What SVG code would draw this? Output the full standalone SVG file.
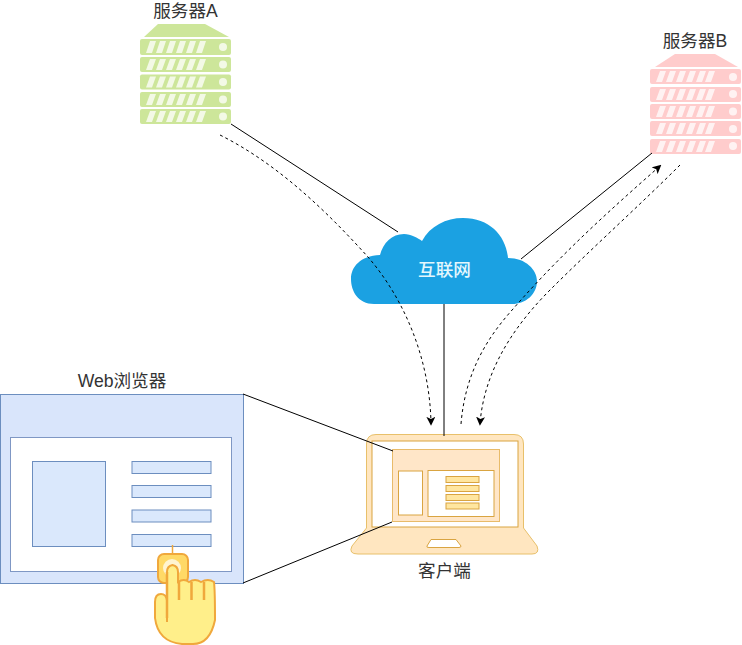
<svg xmlns="http://www.w3.org/2000/svg" width="742" height="645" viewBox="0 0 742 645">
<defs>
<marker id="ah" viewBox="0 0 10 10" refX="8" refY="5" markerWidth="9" markerHeight="9" markerUnits="userSpaceOnUse" orient="auto"><path d="M0 0L10 5L0 10L2.500 5Z" fill="#000"/></marker>
</defs>
<style>
text{font-family:"Liberation Sans","Noto Sans CJK SC",sans-serif;font-size:17.600px;fill:#333;text-anchor:middle}
.l{fill:none;stroke:#000;stroke-width:1}
.d{fill:none;stroke:#000;stroke-width:1;stroke-dasharray:3 3;marker-end:url(#ah)}
.y{fill:#fff;stroke:#d9a441;stroke-width:1}
.b{fill:#dae8fc;stroke:#6c8ebf;stroke-width:1}
.s{fill:#fff;fill-opacity:.75;stroke:none}
.r{fill:#ffe6a0;stroke:#d9a441;stroke-width:1}
</style>
<rect width="742" height="645" fill="#fff"/>
<g id="serverA" fill="#cde69a">
<path d="M158 24H205L229 37H144Z"/>
<rect x="140" y="39" width="91" height="16" rx="2"/><rect x="140" y="57" width="91" height="15" rx="2"/><rect x="140" y="74.500" width="91" height="15" rx="2"/><rect x="140" y="92" width="91" height="15" rx="2"/><rect x="140" y="109" width="91" height="15" rx="2"/>
<g class="s">
<path d="M146 53L150 41h6L152 53ZM156 53L160 41h6L162 53ZM166 53L170 41h6L172 53ZM176 53L180 41h6L182 53ZM186 53L190 41h6L192 53ZM196 53L200 41h6L202 53Z"/>
<path d="M146 70L150 59h6L152 70ZM156 70L160 59h6L162 70ZM166 70L170 59h6L172 70ZM176 70L180 59h6L182 70ZM186 70L190 59h6L192 70ZM196 70L200 59h6L202 70Z"/>
<path d="M146 87.500L150 76.500h6L152 87.500ZM156 87.500L160 76.500h6L162 87.500ZM166 87.500L170 76.500h6L172 87.500ZM176 87.500L180 76.500h6L182 87.500ZM186 87.500L190 76.500h6L192 87.500ZM196 87.500L200 76.500h6L202 87.500Z"/>
<path d="M146 105L150 94h6L152 105ZM156 105L160 94h6L162 105ZM166 105L170 94h6L172 105ZM176 105L180 94h6L182 105ZM186 105L190 94h6L192 105ZM196 105L200 94h6L202 105Z"/>
<path d="M146 122L150 111h6L152 122ZM156 122L160 111h6L162 122ZM166 122L170 111h6L172 122ZM176 122L180 111h6L182 122ZM186 122L190 111h6L192 122ZM196 122L200 111h6L202 122Z"/>
<circle cx="223" cy="47" r="4"/><circle cx="223" cy="64.500" r="4"/><circle cx="223" cy="82" r="4"/><circle cx="223" cy="99.500" r="4"/><circle cx="223" cy="116.500" r="4"/>
</g>
<text x="185.500" y="16.500">服务器A</text>
</g>
<g id="serverB" fill="#ffcccc">
<path d="M675 54H715L738 67H655Z"/>
<rect x="650" y="69" width="91" height="15" rx="2"/><rect x="650" y="87" width="91" height="15" rx="2"/><rect x="650" y="104" width="91" height="15" rx="2"/><rect x="650" y="121" width="91" height="15" rx="2"/><rect x="650" y="139" width="91" height="15" rx="2"/>
<g class="s">
<path d="M656 82L660 71h6L662 82ZM666 82L670 71h6L672 82ZM676 82L680 71h6L682 82ZM686 82L690 71h6L692 82ZM696 82L700 71h6L702 82ZM705 82L709 71h6L711 82Z"/>
<path d="M656 100L660 89h6L662 100ZM666 100L670 89h6L672 100ZM676 100L680 89h6L682 100ZM686 100L690 89h6L692 100ZM696 100L700 89h6L702 100ZM705 100L709 89h6L711 100Z"/>
<path d="M656 117L660 106h6L662 117ZM666 117L670 106h6L672 117ZM676 117L680 106h6L682 117ZM686 117L690 106h6L692 117ZM696 117L700 106h6L702 117ZM705 117L709 106h6L711 117Z"/>
<path d="M656 134L660 123h6L662 134ZM666 134L670 123h6L672 134ZM676 134L680 123h6L682 134ZM686 134L690 123h6L692 134ZM696 134L700 123h6L702 134ZM705 134L709 123h6L711 134Z"/>
<path d="M656 152L660 141h6L662 152ZM666 152L670 141h6L672 152ZM676 152L680 141h6L682 152ZM686 152L690 141h6L692 152ZM696 152L700 141h6L702 152ZM705 152L709 141h6L711 152Z"/>
<circle cx="733" cy="77" r="4"/><circle cx="733" cy="94" r="4"/><circle cx="733" cy="111.500" r="4"/><circle cx="733" cy="129" r="4"/><circle cx="733" cy="146" r="4"/>
</g>
<text x="695" y="47">服务器B</text>
</g>
<g id="cloud">
<path d="M374 304C358 304 351 291 351 279C351 267 360 256 380 255C383 243 392 234 404 234C411 234 418 238 422 241C430 226 446 218 463 218C490 218 506 236 508 258C526 258 537 270 537 281C537 294 526 304 512 304Z" fill="#1ba1e2"/>
<text x="444.500" y="276" style="fill:#e3f7fd;font-weight:500">互联网</text>
</g>
<g id="browser">
<rect x="0.500" y="394.500" width="243" height="189" class="b" style="fill:#d9e5fb"/>
<rect x="10.500" y="437.500" width="221" height="134" fill="#fff" stroke="#7f97c4"/>
<rect x="32.500" y="461.500" width="73" height="85" class="b"/>
<rect x="132" y="461.500" width="79" height="12" class="b"/>
<rect x="132" y="485.500" width="79" height="12" class="b"/>
<rect x="132" y="510" width="79" height="12" class="b"/>
<rect x="132" y="534.500" width="79" height="12" class="b"/>
<text x="122" y="387">Web浏览器</text>
</g>
<g id="client">
<path d="M366.500 528V444Q366.500 434.500 376 434.500H514Q523.500 434.500 523.500 444V528L537 546Q540 554 532 554H358Q348 554 352 546Z" fill="#ffe6c0" stroke="#e8c06a" stroke-width="1"/>
<rect x="372" y="441" width="146" height="86" fill="#fff" stroke="#d9a441"/>
<rect x="392.500" y="449.500" width="107" height="72" fill="#ffe6c8" stroke="#e8bb6a"/>
<rect x="398.500" y="471" width="24" height="44" class="y"/>
<rect x="428" y="470.500" width="66" height="46" class="y"/>
<rect x="446" y="476.500" width="33" height="6" class="r"/>
<rect x="446" y="485.500" width="33" height="6" class="r"/>
<rect x="446" y="494.500" width="33" height="6" class="r"/>
<rect x="446" y="503" width="33" height="6" class="r"/>
<path d="M431 539.500H456L461 546Q461 547.500 459 547.500H429Q426 547.500 427 546Z" fill="#fff" stroke="#d9a441"/>
<text x="444.500" y="577">客户端</text>
</g>
<g id="hand">
<path d="M172.500 545V555" stroke="#f0a83c" stroke-width="1.500" fill="none"/>
<rect x="158" y="554" width="30" height="29" rx="6" fill="#ffd966" stroke="#f0a83c" stroke-width="2"/>
<circle cx="172" cy="568" r="9" fill="#fff" fill-opacity=".7"/>
<path d="M167 622V572Q167 566 172.500 565Q178 566 178 572V582Q184 578 189 582Q195 578 201 582Q208 578 214 582Q215 590 215 620Q210 644 193 644H182Q158 642 155 618V602Q155 594 161 594Q166 594 167 600Z" fill="#ffef8a" stroke="#f0a83c" stroke-width="2"/>
<path d="M167 572V618M179 582V600M191.500 582V600M204 582V600" fill="none" stroke="#f0a83c" stroke-width="2.500"/>
</g>
<g id="connectors">
<path class="l" d="M231 124L398 232"/>
<path class="l" d="M652 153L521 259"/>
<path class="l" d="M444 304V436"/>
<path class="l" d="M243 394L393 451"/>
<path class="l" d="M243 583L392 522"/>
<path class="d" d="M220 135C280 165 330 215 368 257C405 300 430 360 431 424"/>
<path class="d" d="M461 424C465 375 485 340 513 309C560 255 610 210 660 166"/>
<path class="d" d="M680 165C640 205 590 250 550 290C515 325 484 370 480 424"/>
</g>
</svg>
